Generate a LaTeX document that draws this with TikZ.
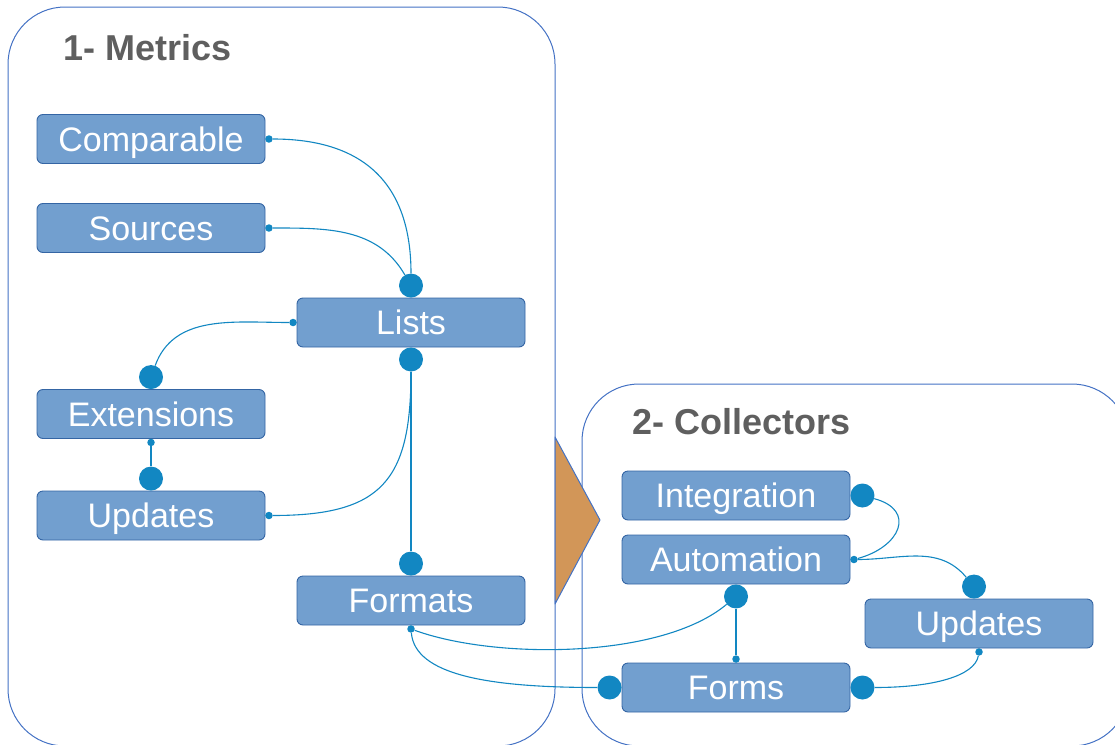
\documentclass[tikz,border=0pt]{standalone}
\usepackage{fontspec}
\setmainfont{Liberation Sans}
\definecolor{boxfill}{RGB}{114,159,207}
\definecolor{boxline}{RGB}{52,101,164}
\definecolor{conn}{RGB}{18,135,194}
\definecolor{frame}{RGB}{68,114,196}
\definecolor{tri}{RGB}{210,150,88}
\definecolor{titlegray}{RGB}{95,95,95}
\begin{document}
\begin{tikzpicture}[x=1pt,y=1pt,
  box/.style={draw=boxline, fill=boxfill, line width=0.9pt, rounded corners=6pt,
    minimum width=228pt, minimum height=49pt, inner sep=0pt, text=white,
    font=\fontsize{34}{40}\selectfont, text height=24.5pt, text depth=0pt},
  bigdot/.style={circle, fill=conn, inner sep=0pt, minimum size=24pt},
  smalldot/.style={circle, fill=conn, inner sep=0pt, minimum size=7.5pt},
  link/.style={draw=conn, line width=1.1pt},
  container/.style={draw=frame, line width=1pt, rounded corners=57pt},
  title/.style={anchor=base west, inner sep=0pt, text=titlegray,
    font=\fontsize{36}{42}\selectfont\bfseries}
]
\useasboundingbox (0,0) rectangle (1115,-744);

% containers and arrow shape
\draw[container] (8,-7) rectangle (555,-746);
\draw[container] (582,-384) rectangle (1129,-746);
\draw[draw=frame, fill=tri, line width=1pt, line join=round]
  (555,-437) -- (600,-520) -- (555,-604) -- cycle;

% titles
\node[title] (t1) at (63,-60) {1- Metrics};
\node[title] (t2) at (632,-434) {2- Collectors};

% boxes
\node[box] (comparable)  at (151,-139)   {Comparable};
\node[box] (sources)     at (151,-228)   {Sources};
\node[box] (lists)       at (411,-322.5) {Lists};
\node[box] (extensions)  at (151,-414)   {Extensions};
\node[box] (updatesL)    at (151,-515.5) {Updates};
\node[box] (formats)     at (411,-600.5) {Formats};
\node[box] (integration) at (736,-495.5) {Integration};
\node[box] (automation)  at (736,-559.5) {Automation};
\node[box] (updatesR)    at (979,-623.5) {Updates};
\node[box] (forms)       at (736,-687.5) {Forms};

% connector end dots
\node[smalldot] (dCompR) at ([xshift=3.5pt]comparable.east) {};
\node[smalldot] (dSrcR)  at ([xshift=3.5pt]sources.east) {};
\node[bigdot]   (dListsT) at ([yshift=12pt]lists.north) {};
\node[smalldot] (dListsL) at ([xshift=-3.5pt]lists.west) {};
\node[bigdot]   (dListsB) at ([yshift=-12pt]lists.south) {};
\node[bigdot]   (dExtT)  at ([yshift=12pt]extensions.north) {};
\node[smalldot] (dExtB)  at ([yshift=-3.5pt]extensions.south) {};
\node[bigdot]   (dUpdLT) at ([yshift=12pt]updatesL.north) {};
\node[smalldot] (dUpdLR) at ([xshift=3.5pt]updatesL.east) {};
\node[bigdot]   (dFmtT)  at ([yshift=12pt]formats.north) {};
\node[smalldot] (dFmtB)  at ([yshift=-3.5pt]formats.south) {};
\node[bigdot]   (dIntR)  at ([xshift=12pt]integration.east) {};
\node[smalldot] (dAutR)  at ([xshift=3.5pt]automation.east) {};
\node[bigdot]   (dAutB)  at ([yshift=-12pt]automation.south) {};
\node[bigdot]   (dUpdRT) at ([xshift=-5pt,yshift=12pt]updatesR.north) {};
\node[smalldot] (dUpdRB) at ([yshift=-3.5pt]updatesR.south) {};
\node[smalldot] (dFormsT) at ([yshift=3.5pt]forms.north) {};
\node[bigdot]   (dFormsL) at ([xshift=-12pt]forms.west) {};
\node[bigdot]   (dFormsR) at ([xshift=12pt]forms.east) {};

% connectors
\draw[link] (dCompR) to[out=0,in=90,looseness=1.2] (dListsT);
\draw[link] (dSrcR) to[out=0,in=120] (dListsT);
\draw[link] (dListsL) to[out=180,in=70] (dExtT);
\draw[link] (dExtB) -- (dUpdLT);
\draw[link] (dListsB) to[out=-90,in=0,looseness=1.4] (dUpdLR);
\draw[link] (dListsB) -- (dFmtT);
\draw[link] (dFmtB) to[out=-20,in=-140,looseness=0.7] (dAutB);
\draw[link] (dFmtB) to[out=-85,in=180,out distance=42pt,in distance=110pt] (dFormsL);
\draw[link] (dAutB) -- (dFormsT);
\draw[link] (dIntR) to[out=-15,in=15,distance=44pt] (dAutR);
\draw[link] (dAutR) to[out=0,in=130] (dUpdRT);
\draw[link] (dUpdRB) to[out=-100,in=0,out distance=20pt,in distance=60pt] (dFormsR);
\end{tikzpicture}
\end{document}
